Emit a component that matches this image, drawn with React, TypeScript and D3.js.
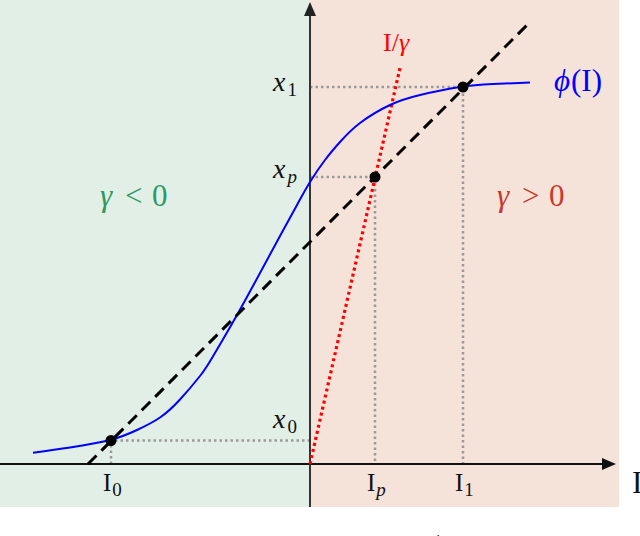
import React, { useEffect, useRef } from 'react';
import * as d3 from 'd3';

// phi(I) (I, phi)
const curveI = [-27.7, -24, -20, -17.3, -15, -13, -11, -9.8, -7.3, -5, -3, -1.3, 0, 1.5, 3, 5, 8, 11, 15, 18.3, 22];
const curvePhi = [1.13, 1.65, 2.4, 3.4, 4.65, 6.45, 8.8, 10.6, 14.9, 19.1, 22.8, 25.9, 28.2, 30.4, 32.2, 34.1, 35.9, 36.9, 37.7, 38.0, 38.15];

// fixed points
const pointNames = ['0', 'p', '1'];
const pointI = [-19.9, 6.5, 15.3];
const pointX = [2.35, 28.7, 37.7];

// straight lines, endpoints
const identityLine: [number, number][] = [[-22.2, 0], [22.0, 44.2]];
const gammaLine: [number, number][] = [[0, 0], [9.0, 39.6]];

const W = 640, H = 536;
const font = "'Liberation Serif', serif";

const App = () => {
    const ref = useRef<SVGSVGElement>(null);

    useEffect(() => {
        if (!ref.current) return;
        const svg = d3.select(ref.current);
        svg.selectAll('*').remove();

        const x = d3.scaleLinear().domain([-31, 30.9]).range([0, 619]);
        const y = d3.scaleLinear().domain([-4.3, 46.4]).range([507, 0]);

        // half planes
        svg.append('rect')
            .attr('x', x(-31)).attr('y', y(46.4))
            .attr('width', x(0) - x(-31)).attr('height', y(-4.3) - y(46.4))
            .attr('fill', '#e2efe6');
        svg.append('rect')
            .attr('x', x(0)).attr('y', y(46.4))
            .attr('width', x(30.9) - x(0)).attr('height', y(-4.3) - y(46.4))
            .attr('fill', '#f5e2d9');

        // guide lines
        const grey = svg.append('g')
            .attr('stroke', '#9a9a9a').attr('stroke-width', 2.5)
            .attr('stroke-dasharray', '2.5 3').attr('fill', 'none');
        pointI.forEach((I, i) => {
            grey.append('path')
                .attr('d', d3.line()([[x(0), y(pointX[i])], [x(I), y(pointX[i])], [x(I), y(0)]]));
        });

        // axes
        svg.append('line')
            .attr('x1', x(-31)).attr('x2', x(30.6) - 10)
            .attr('y1', y(0)).attr('y2', y(0))
            .attr('stroke', '#111').attr('stroke-width', 2);
        svg.append('path')
            .attr('d', `M${x(30.6)},${y(0)} l-14,-6 l0,12 z`)
            .attr('fill', '#111');
        svg.append('line')
            .attr('x1', x(0)).attr('x2', x(0))
            .attr('y1', y(-4.3)).attr('y2', y(46.2) + 10)
            .attr('stroke', '#333').attr('stroke-width', 2);
        svg.append('path')
            .attr('d', `M${x(0)},${y(46.2)} l-6,14 l12,0 z`)
            .attr('fill', '#222');

        const line = d3.line<[number, number]>().x(d => x(d[0])).y(d => y(d[1]));

        // I / gamma
        svg.append('path')
            .attr('d', line(gammaLine))
            .attr('stroke', '#ff0000').attr('stroke-width', 3.2)
            .attr('stroke-dasharray', '3 3.2').attr('fill', 'none');

        // phi(I)
        const curve = d3.line<number>()
            .x(d => x(d))
            .y((d, i) => y(curvePhi[i]))
            .curve(d3.curveNatural);
        svg.append('path')
            .attr('d', curve(curveI))
            .attr('stroke', '#0000ff').attr('stroke-width', 2)
            .attr('fill', 'none');

        // x = I line
        svg.append('path')
            .attr('d', line(identityLine))
            .attr('stroke', '#000').attr('stroke-width', 3)
            .attr('stroke-dasharray', '12 7').attr('fill', 'none');

        svg.selectAll('.pt')
            .data(pointI)
            .enter().append('circle')
            .attr('cx', d => x(d))
            .attr('cy', (d, i) => y(pointX[i]))
            .attr('r', 5.5)
            .attr('fill', '#000');

        // labels
        const txt = svg.append('g').attr('font-family', font);
        const labelShift = [-13, 1, 4];

        pointNames.forEach((n, i) => {
            const lx = txt.append('text')
                .attr('x', x(-3.7)).attr('y', y(pointX[i]) + labelShift[i])
                .attr('font-size', 28).attr('fill', '#111');
            lx.append('tspan').attr('font-style', 'italic').text('x');
            lx.append('tspan').attr('font-size', 19).attr('dx', 2).attr('dy', 5)
                .attr('font-style', n === 'p' ? 'italic' : 'normal').text(n);

            const li = txt.append('text')
                .attr('x', x(pointI[i]) - 8).attr('y', y(0) + 27)
                .attr('font-size', 25).attr('fill', '#111');
            li.append('tspan').text('I');
            li.append('tspan').attr('font-size', 19).attr('dx', 1).attr('dy', 5)
                .attr('font-style', n === 'p' ? 'italic' : 'normal').text(n);
        });

        txt.append('text')
            .attr('x', 632).attr('y', y(0) + 29)
            .attr('font-size', 31).attr('fill', '#111').text('I');

        const g1 = txt.append('text')
            .attr('y', 206).attr('font-size', 31).attr('fill', '#2a9a62');
        g1.append('tspan').attr('x', 100).attr('font-style', 'italic').text('γ');
        g1.append('tspan').attr('x', 125).text('<');
        g1.append('tspan').attr('x', 152).text('0');

        const g2 = txt.append('text')
            .attr('y', 206).attr('font-size', 31).attr('fill', '#c8382c');
        g2.append('tspan').attr('x', 497).attr('font-style', 'italic').text('γ');
        g2.append('tspan').attr('x', 522).text('>');
        g2.append('tspan').attr('x', 549).text('0');

        const ph = txt.append('text')
            .attr('x', 554).attr('y', 91).attr('font-size', 31).attr('fill', '#0000ff');
        ph.append('tspan').attr('font-style', 'italic').text('ϕ');
        ph.append('tspan').attr('dx', 1).text('(I)');

        const ig = txt.append('text')
            .attr('x', 383).attr('y', 51).attr('font-size', 26).attr('fill', '#ff0000');
        ig.append('tspan').text('I/');
        ig.append('tspan').attr('font-style', 'italic').text('γ');

        txt.append('text')
            .attr('x', 434).attr('y', 546).attr('font-size', 16).attr('fill', '#111').text('1');
    }, []);

    return <svg ref={ref} width={W} height={H} style={{ position: 'absolute', left: 0, top: 0 }} />;
};

export default App;
